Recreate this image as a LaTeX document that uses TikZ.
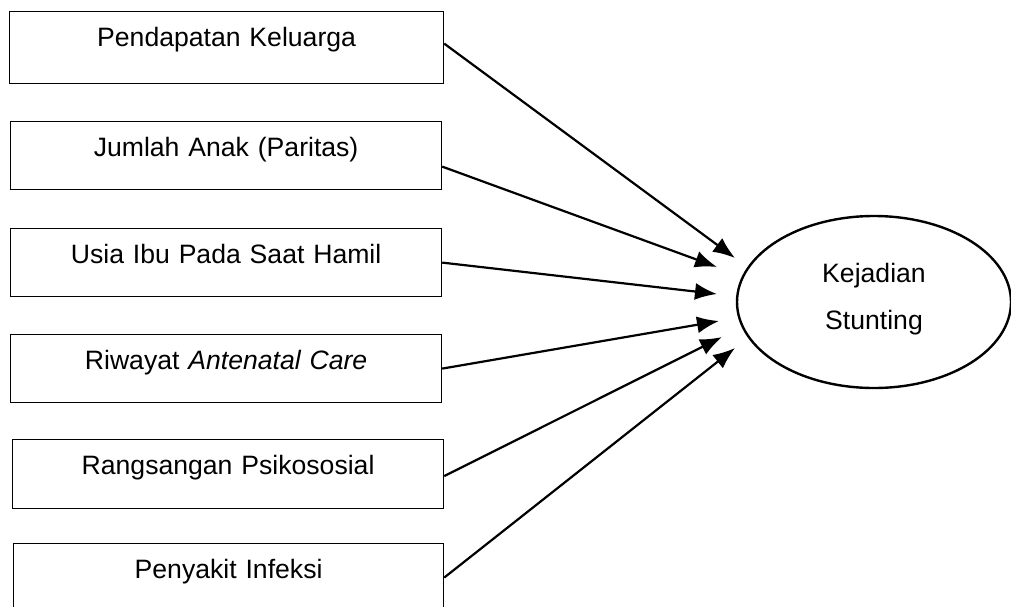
\documentclass[tikz,border=0pt]{standalone}
\usepackage{fontspec}
\setmainfont{Liberation Sans}
\usetikzlibrary{arrows.meta,shapes.geometric}

\begin{document}
\begin{tikzpicture}[x=0.5pt, y=-0.5pt, >={Latex[length=11pt,width=8.5pt]},
                    font=\fontsize{13.3pt}{16pt}\selectfont,
                    box/.style={draw, line width=0.6pt, inner sep=0pt, anchor=north west,
                                text width=215.5pt, align=center,
                                text height=17.5pt, text depth=16.5pt},
                    link/.style={->, line width=1.1pt}]
  \useasboundingbox (0,0) rectangle (1011,606);
  \node[box, text width=217pt, text depth=18.5pt] (income) at (9,11) {Pendapatan Keluarga};
  \node[box] (parity) at (10,121) {Jumlah Anak (Paritas)};
  \node[box] (age) at (10,228) {Usia Ibu Pada Saat Hamil};
  \node[box] (anc) at (10,334) {Riwayat \textit{Antenatal Care}};
  \node[box, text depth=17pt] (stim) at (12,439) {Rangsangan Psikososial};
  \node[box, text width=215pt] (infect) at (13,543) {Penyakit Infeksi};
  \node[draw, ellipse, line width=1.2pt, inner sep=0pt, minimum width=137pt,
        minimum height=86pt, align=center, text depth=6pt,
        font=\fontsize{13.3pt}{23.5pt}\selectfont] (stunting) at (874,302) {Kejadian\\Stunting};
  \coordinate (t1) at (735,258);
  \coordinate (t2) at (717,267);
  \coordinate (t3) at (717,294);
  \coordinate (t4) at (719,321);
  \coordinate (t5) at (722,337);
  \coordinate (t6) at (735,348);
  \draw[link] ([yshift=2pt]income.east) -- (t1);
  \draw[link] ([yshift=-5.5pt]parity.east) -- (t2);
  \draw[link] (age.east) -- (t3);
  \draw[link] (anc.east) -- (t4);
  \draw[link] ([yshift=-1pt]stim.east) -- (t5);
  \draw[link] (infect.east) -- (t6);
\end{tikzpicture}
\end{document}
